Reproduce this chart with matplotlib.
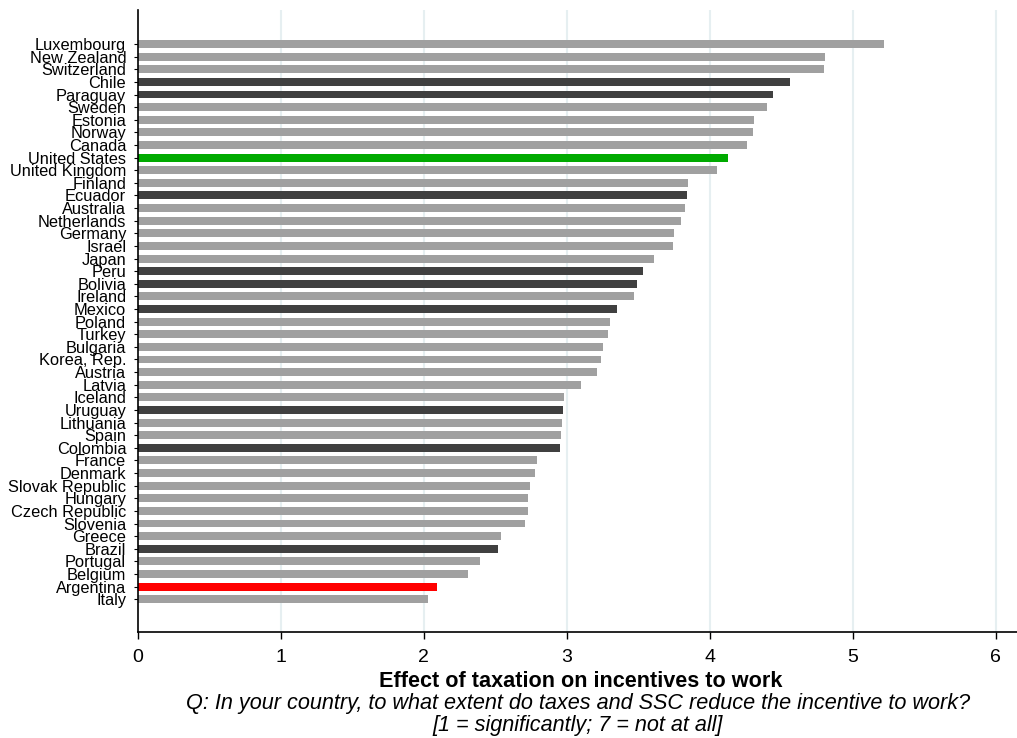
import matplotlib.pyplot as plt

countries = [
    "Luxembourg", "New Zealand", "Switzerland", "Chile", "Paraguay", "Sweden",
    "Estonia", "Norway", "Canada", "United States", "United Kingdom", "Finland",
    "Ecuador", "Australia", "Netherlands", "Germany", "Israel", "Japan", "Peru",
    "Bolivia", "Ireland", "Mexico", "Poland", "Turkey", "Bulgaria", "Korea, Rep.",
    "Austria", "Latvia", "Iceland", "Uruguay", "Lithuania", "Spain", "Colombia",
    "France", "Denmark", "Slovak Republic", "Hungary", "Czech Republic",
    "Slovenia", "Greece", "Brazil", "Portugal", "Belgium", "Argentina", "Italy",
]
values = [
    5.22, 4.81, 4.80, 4.565, 4.44, 4.40,
    4.31, 4.30, 4.26, 4.125, 4.05, 3.85,
    3.84, 3.83, 3.80, 3.75, 3.745, 3.61, 3.535,
    3.49, 3.47, 3.35, 3.30, 3.29, 3.255, 3.24,
    3.21, 3.10, 2.98, 2.975, 2.97, 2.96, 2.955,
    2.79, 2.78, 2.74, 2.73, 2.73,
    2.71, 2.54, 2.52, 2.39, 2.31, 2.09, 2.03,
]
latam = ["Chile", "Paraguay", "Ecuador", "Peru", "Bolivia", "Mexico",
         "Uruguay", "Colombia", "Brazil"]


def bar_color(name):
    if name == "Argentina":
        return "#ff0000"
    if name == "United States":
        return "#00aa00"
    if name in latam:
        return "#404040"
    return "#a0a0a0"


plt.rcParams["font.family"] = ["Liberation Sans", "DejaVu Sans"]

fig = plt.figure(figsize=(10.17, 7.38), dpi=100)
ax = fig.add_axes([0.1357, 0.1436, 0.8643, 0.8429])

ypos = list(range(len(countries)))
ax.barh(ypos, values, height=0.63, color=[bar_color(c) for c in countries],
        zorder=2)

ax.set_ylim(len(countries) - 1 + 2.6, -2.7)
ax.set_xlim(0, 6.15)
ax.set_yticks(ypos)
ax.set_yticklabels(countries, fontsize=11.8)
ax.set_xticks(range(7))
ax.tick_params(axis="x", labelsize=14, length=5, width=1, pad=7)
ax.tick_params(axis="y", length=3, width=0.8, pad=5.5)

for x in range(1, 7):
    ax.axvline(x, color="#e6eff1", linewidth=1.5, zorder=1)

ax.spines["top"].set_visible(False)
ax.spines["right"].set_visible(False)
ax.spines["left"].set_linewidth(1.2)
ax.spines["bottom"].set_linewidth(1.2)

fig.text(0.5708, 0.0759, "Effect of taxation on incentives to work",
         ha="center", va="center", fontsize=15.6, fontweight="bold")
fig.text(0.568, 0.0461,
         "Q: In your country, to what extent do taxes and SSC reduce the incentive to work?",
         ha="center", va="center", fontsize=15.6, style="italic")
fig.text(0.568, 0.0176, "[1 = significantly; 7 = not at all]",
         ha="center", va="center", fontsize=15.6, style="italic")

fig.savefig("out.png", dpi=100)
